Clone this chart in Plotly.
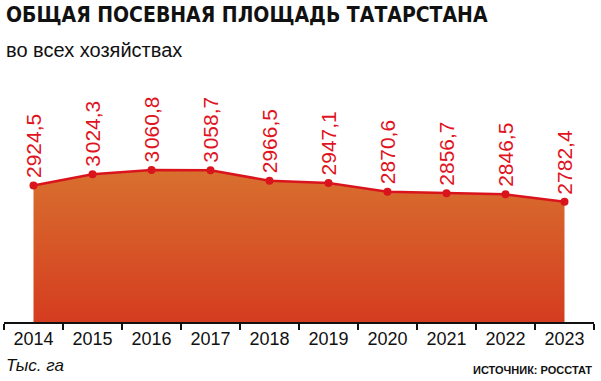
import plotly.graph_objects as go

years = ["2014", "2015", "2016", "2017", "2018", "2019", "2020", "2021", "2022", "2023"]
values = [2924.5, 3024.3, 3060.8, 3058.7, 2966.5, 2947.1, 2870.6, 2856.7, 2846.5, 2782.4]
labels = ["2924,5", "3\u200a024,3", "3\u200a060,8", "3\u200a058,7", "2966,5", "2947,1",
          "2870,6", "2856,7", "2846,5", "2782,4"]

title = "ОБЩАЯ ПОСЕВНАЯ ПЛОЩАДЬ ТАТАРСТАНА"
subtitle = "во всех хозяйствах"
unit = "Тыс. га"
source = "ИСТОЧНИК: РОССТАТ"

RED = "#d9141c"
Y0, Y1 = 1722, 3678

fig = go.Figure()
fig.add_trace(go.Scatter(
    x=years, y=values, mode="lines+markers",
    line=dict(color=RED, width=2.5),
    marker=dict(color=RED, size=8),
    fill="tozeroy",
    fillgradient=dict(type="vertical",
                      colorscale=[[0, "#d53c1f"], [1, "#d8702f"]],
                      start=Y0, stop=max(values)),
    hoverinfo="skip",
))

for i, (v, lb) in enumerate(zip(values, labels)):
    fig.add_annotation(x=i, y=v, text=lb, textangle=-90, showarrow=False,
                       xanchor="center", yanchor="bottom", yshift=5,
                       font=dict(family="Liberation Sans, Arial, sans-serif", size=21, color="#e0141e"))

H = 222.0
def py(p):
    return (322 - p) / H

fig.add_annotation(xref="paper", yref="paper", x=0, y=py(15), xanchor="left", yanchor="middle",
                   text=title, showarrow=False,
                   font=dict(family="DejaVu Sans Condensed, DejaVu Sans, sans-serif",
                             size=21, color="#111111", weight="bold"))
fig.add_annotation(xref="paper", yref="paper", x=0, y=py(50), xanchor="left", yanchor="middle",
                   text=subtitle, showarrow=False,
                   font=dict(family="Liberation Sans, Arial, sans-serif", size=20, color="#111111"))
fig.add_annotation(xref="paper", yref="paper", x=0, y=py(365), xanchor="left", yanchor="middle",
                   text=unit, showarrow=False,
                   font=dict(family="Liberation Sans, Arial, sans-serif", size=17, color="#111111", style="italic"))
fig.add_annotation(xref="paper", yref="paper", x=1, y=py(370), xanchor="right", yanchor="middle",
                   text=source, showarrow=False,
                   font=dict(family="Liberation Sans, Arial, sans-serif", size=11, color="#111111", weight="bold"))

fig.update_layout(
    width=601, height=381,
    margin=dict(l=4, r=7, t=100, b=59),
    paper_bgcolor="white", plot_bgcolor="white",
    showlegend=False,
    xaxis=dict(type="category", range=[-0.5, 9.5], tickson="boundaries",
               ticks="outside", ticklen=6, tickwidth=1.5, tickcolor="#111111",
               showline=True, linecolor="#111111", linewidth=1.5,
               showgrid=False, zeroline=False,
               tickfont=dict(family="Liberation Sans, Arial, sans-serif", size=18, color="#111111")),
    yaxis=dict(range=[Y0, Y1], visible=False, showgrid=False, zeroline=False),
)

fig.write_html("out.html", config={"displayModeBar": False},
               post_script="document.body.style.margin='0';document.body.style.overflow='hidden';")
